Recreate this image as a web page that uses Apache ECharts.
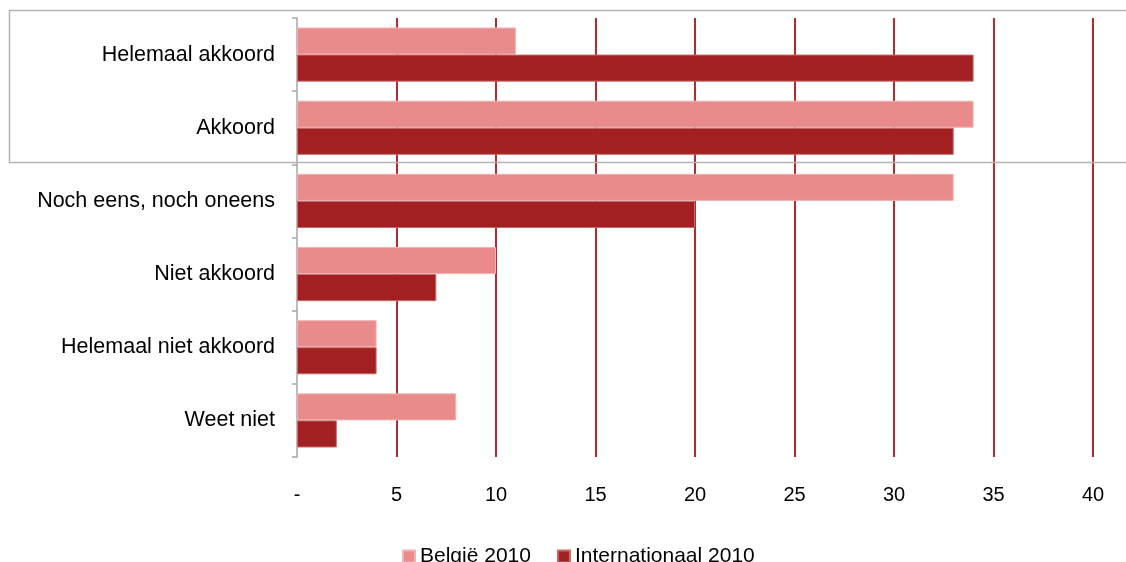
<!DOCTYPE html>
<html>
<head>
<meta charset="utf-8">
<script src="https://cdn.jsdelivr.net/npm/echarts@6/dist/echarts.min.js"></script>
<style>html,body{margin:0;padding:0;background:#fff}#c{width:1126px;height:562px}</style>
</head>
<body>
<div id="c"></div>
<script>
var categories = ['Helemaal akkoord', 'Akkoord', 'Noch eens, noch oneens', 'Niet akkoord', 'Helemaal niet akkoord', 'Weet niet'];
var belgie2010 = [11, 34, 33, 10, 4, 8];
var internationaal2010 = [34, 33, 20, 7, 4, 2];
var seriesNames = ['België 2010', 'Internationaal 2010'];
var xTicks = [0, 5, 10, 15, 20, 25, 30, 35, 40];

var chart = echarts.init(document.getElementById('c'), null, {renderer: 'canvas'});
var font = 'Liberation Sans, Arial, sans-serif';
chart.setOption({
  animation: false,
  backgroundColor: '#ffffff',
  grid: {left: 297, right: 33, top: 18, bottom: 105, containLabel: false},
  xAxis: {
    type: 'value', min: xTicks[0], max: xTicks[xTicks.length - 1], interval: 5,
    axisLine: {show: false}, axisTick: {show: false},
    axisLabel: {color: '#000', fontFamily: font, fontSize: 20, margin: 28,
      formatter: function (v) { return v === 0 ? '-' : String(v); }},
    splitLine: {show: true, showMinLine: false, lineStyle: {color: '#b52a2d', width: 2}}
  },
  yAxis: {
    type: 'category', data: categories, inverse: true,
    axisLine: {show: true, lineStyle: {color: '#a6a6a6', width: 1.5}},
    axisTick: {show: true, inside: false, length: 5, lineStyle: {color: '#a6a6a6', width: 1.5}},
    axisLabel: {color: '#000', fontFamily: font, fontSize: 21.5, margin: 22, padding: [4, 0, 0, 0]}
  },
  legend: {
    data: seriesNames, left: 397, top: 541, icon: 'rect', itemWidth: 12, itemHeight: 12, itemGap: 26,
    textStyle: {color: '#000', fontFamily: font, fontSize: 21}
  },
  series: [
    {name: seriesNames[0], type: 'bar', data: belgie2010, barGap: '0%', barCategoryGap: '26%',
      itemStyle: {color: '#e98b8b', borderColor: '#f3b3b3', borderWidth: 1}},
    {name: seriesNames[1], type: 'bar', data: internationaal2010, barGap: '0%', barCategoryGap: '26%',
      itemStyle: {color: '#a21f22', borderColor: '#c46a6a', borderWidth: 1}}
  ],
  graphic: [{
    type: 'rect', z: 100, silent: true,
    shape: {x: 9.5, y: 10.5, width: 1130, height: 152},
    style: {fill: null, stroke: '#b3b3b3', lineWidth: 1.5}
  }]
});
</script>
</body>
</html>
